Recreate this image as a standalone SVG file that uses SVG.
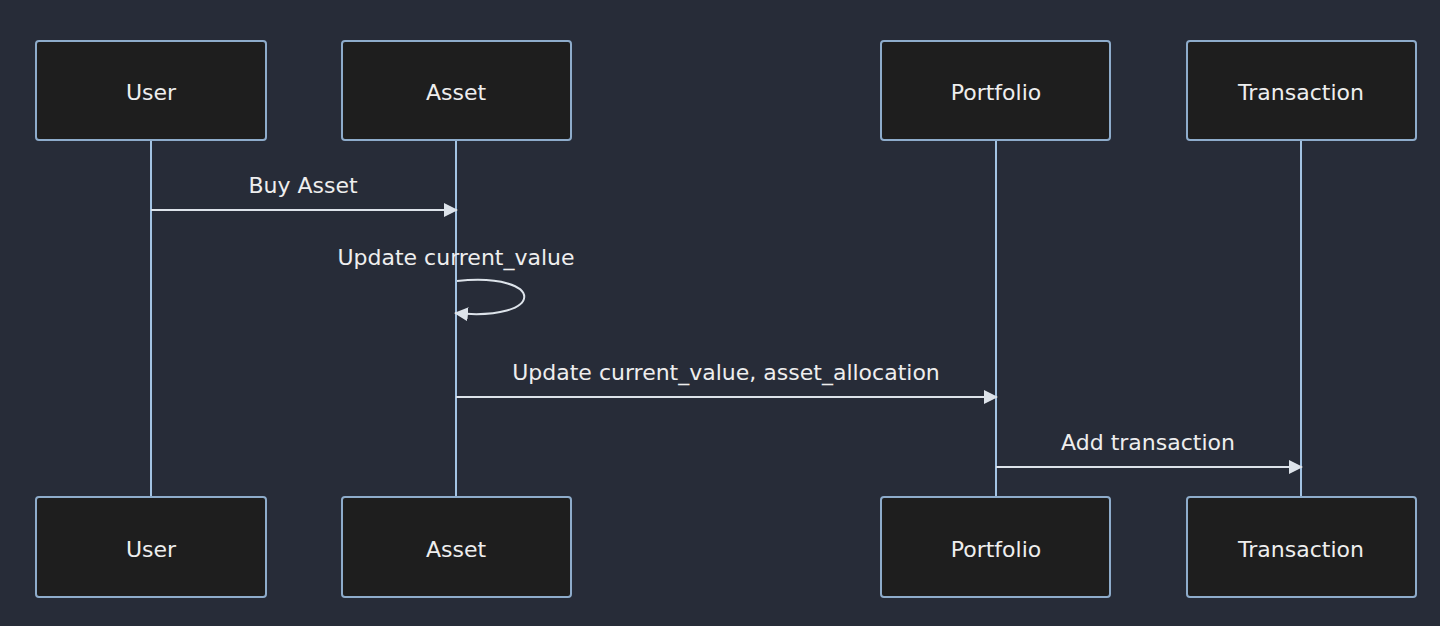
<svg xmlns="http://www.w3.org/2000/svg" width="1440" height="626" viewBox="0 0 1440 626">
<defs>
<style>
.bg{fill:#272c38}
.actor rect{fill:#1e1e1e;stroke:#8eaccb;stroke-width:2}
.actor text{fill:#eeeeee;font-family:"DejaVu Sans","Open Sans",sans-serif;font-size:22px;text-anchor:middle;dominant-baseline:central}
.life{stroke:#a3c3e3;stroke-width:2}
.msg{stroke:#dde3ea;stroke-width:2;fill:none}
.lbl{fill:#eeeeee;font-family:"DejaVu Sans","Open Sans",sans-serif;font-size:22px;text-anchor:middle}
</style>
<marker id="arr" viewBox="0 0 14 14" refX="13" refY="7" markerWidth="14" markerHeight="14" markerUnits="userSpaceOnUse" orient="auto">
<path d="M0,0 L14,7 L0,14 z" fill="#dde3ea"/>
</marker>
</defs>
<rect class="bg" x="0" y="0" width="1440" height="626"/>
<g id="lifelines">
<line class="life" x1="151" y1="140" x2="151" y2="497"/>
<line class="life" x1="456" y1="140" x2="456" y2="497"/>
<line class="life" x1="996" y1="140" x2="996" y2="497"/>
<line class="life" x1="1301" y1="140" x2="1301" y2="497"/>
</g>
<g id="user-top" class="actor"><rect x="36" y="41" width="230" height="99" rx="3"/><text x="151" y="92">User</text></g>
<g id="asset-top" class="actor"><rect x="342" y="41" width="229" height="99" rx="3"/><text x="456" y="92">Asset</text></g>
<g id="portfolio-top" class="actor"><rect x="881" y="41" width="229" height="99" rx="3"/><text x="996" y="92">Portfolio</text></g>
<g id="transaction-top" class="actor"><rect x="1187" y="41" width="229" height="99" rx="3"/><text x="1301" y="92">Transaction</text></g>
<g id="user-bottom" class="actor"><rect x="36" y="497" width="230" height="100" rx="3"/><text x="151" y="549">User</text></g>
<g id="asset-bottom" class="actor"><rect x="342" y="497" width="229" height="100" rx="3"/><text x="456" y="549">Asset</text></g>
<g id="portfolio-bottom" class="actor"><rect x="881" y="497" width="229" height="100" rx="3"/><text x="996" y="549">Portfolio</text></g>
<g id="transaction-bottom" class="actor"><rect x="1187" y="497" width="229" height="100" rx="3"/><text x="1301" y="549">Transaction</text></g>
<g id="connectors">
<line class="msg" x1="151" y1="210" x2="457" y2="210" marker-end="url(#arr)"/>
<text class="lbl" x="303" y="193">Buy Asset</text>
<path class="msg" d="M457,281 C547,272 547,322 455,313" marker-end="url(#arr)"/>
<text class="lbl" x="456" y="265">Update current_value</text>
<line class="msg" x1="456" y1="397" x2="997" y2="397" marker-end="url(#arr)"/>
<text class="lbl" x="726" y="380">Update current_value, asset_allocation</text>
<line class="msg" x1="996" y1="467" x2="1302" y2="467" marker-end="url(#arr)"/>
<text class="lbl" x="1148" y="450">Add transaction</text>
</g>
</svg>
